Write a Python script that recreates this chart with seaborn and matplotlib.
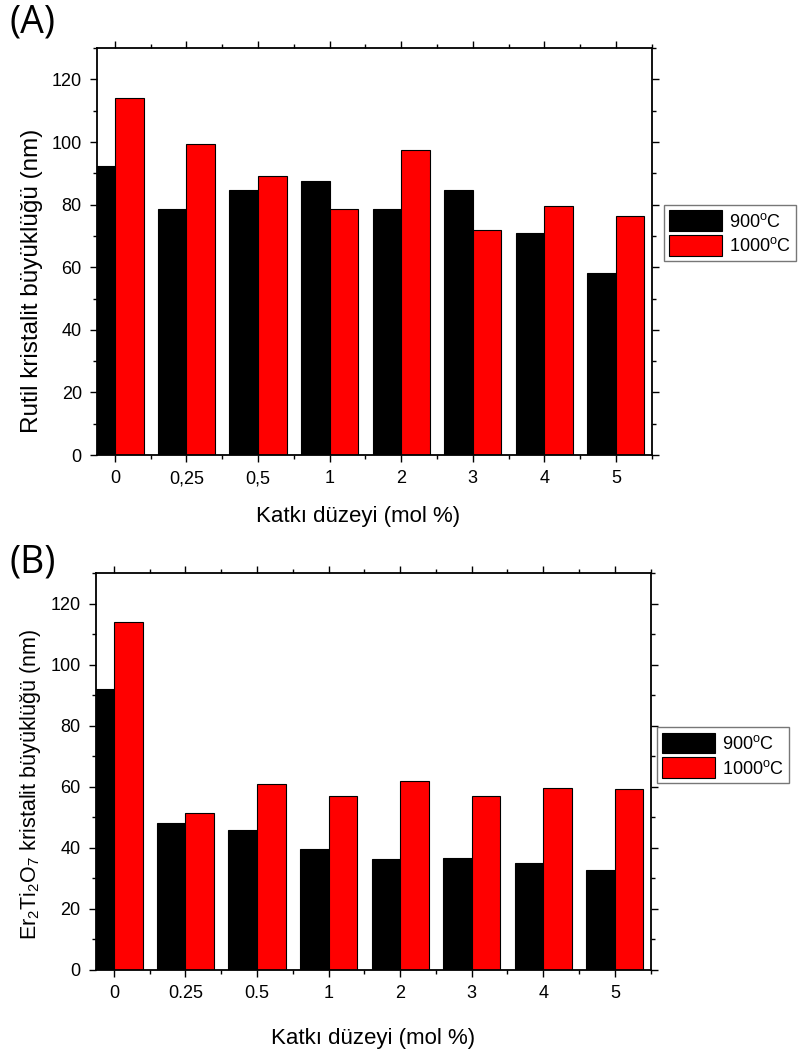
import numpy as np
import pandas as pd
import matplotlib
matplotlib.use('Agg')
import matplotlib.pyplot as plt
import seaborn as sns

sns.set_style('ticks')
plt.rcParams['font.family'] = ['Liberation Sans', 'DejaVu Sans']
plt.rcParams['mathtext.fontset'] = 'custom'
plt.rcParams['mathtext.rm'] = 'Liberation Sans'
plt.rcParams['text.color'] = 'black'
plt.rcParams['axes.labelcolor'] = 'black'
plt.rcParams['xtick.color'] = 'black'
plt.rcParams['ytick.color'] = 'black'
plt.rcParams['axes.edgecolor'] = 'black'

# veri
levels = ['0', '0.25', '0.5', '1', '2', '3', '4', '5']
labels_a = ['0', '0,25', '0,5', '1', '2', '3', '4', '5']
labels_b = ['0', '0.25', '0.5', '1', '2', '3', '4', '5']
temps = ['900°C', '1000°C']
temp_labels = ['900$^\\mathregular{o}$C', '1000$^\\mathregular{o}$C']

rutil_900 = [92.2, 78.6, 84.8, 87.5, 78.6, 84.7, 70.9, 58.1]
rutil_1000 = [114.1, 99.4, 89.0, 78.5, 97.4, 71.8, 79.7, 76.4]

er_900 = [92.0, 48.1, 45.8, 39.7, 36.4, 36.5, 35.0, 32.8]
er_1000 = [114.0, 51.5, 60.8, 57.0, 62.0, 57.0, 59.6, 59.2]

palette = {'900°C': 'black', '1000°C': 'red'}


def long_df(v900, v1000):
    return pd.DataFrame({
        'level': levels * 2,
        'temp': [temps[0]] * len(levels) + [temps[1]] * len(levels),
        'size': v900 + v1000,
    })


fig = plt.figure(figsize=(7.98, 10.57), dpi=100)
ax_a = fig.add_axes([0.1216, 0.5695, 0.695, 0.385])
ax_b = fig.add_axes([0.1203, 0.0826, 0.695, 0.375])

# (eksen, veri, etiketler, y etiketi, y boyut, y konum, x konum, harf, lejant, harf y)
panels = [
    (ax_a, long_df(rutil_900, rutil_1000), labels_a,
     'Rutil kristalit büyüklüğü (nm)', 17.5, (-0.097, 0.4275),
     (0.47, -0.125), '(A)', (0.832, 0.806), 0.997),
    (ax_b, long_df(er_900, er_1000), labels_b,
     '$\\mathregular{Er_2Ti_2O_7}$ kristalit büyüklüğü (nm)', 15.5,
     (-0.0955, 0.468), (0.5, -0.146), '(B)', (0.823, 0.312), 0.486),
]

for ax, df, xt, ylab, ysize, ypos, xpos, tag, leg_pos, tag_y in panels:
    sns.barplot(data=df, x='level', y='size', hue='temp', order=levels,
                hue_order=temps, palette=palette, width=0.8, gap=0,
                edgecolor='black', linewidth=0.8, saturation=1, ax=ax)
    ax.set_xlim(-0.25, 7.5)
    ax.set_ylim(0, 130)
    ax.set_yticks(np.arange(0, 121, 20))
    ax.set_yticks(np.arange(0, 131, 10), minor=True)
    ax.set_xticks(np.arange(len(levels)))
    ax.set_xticks(np.arange(0.5, 7.6, 1), minor=True)
    ax.set_xticklabels(xt)
    ax.tick_params(axis='both', which='major', labelsize=13, length=5,
                   width=1, direction='out', pad=6)
    ax.tick_params(axis='both', which='minor', length=3, width=1,
                   direction='out')
    ax.tick_params(top=True, right=True, which='both')
    ax.tick_params(labeltop=False, labelright=False)
    for s in ax.spines.values():
        s.set_linewidth(1.3)
        s.set_visible(True)
    ax.set_xlabel('Katkı düzeyi (mol %)', fontsize=16)
    ax.set_ylabel(ylab, fontsize=ysize)
    ax.yaxis.set_label_coords(*ypos)
    ax.xaxis.set_label_coords(*xpos)

    handles, _ = ax.get_legend_handles_labels()
    ax.get_legend().remove()
    fig.legend(handles, temp_labels, loc='upper left',
               bbox_to_anchor=leg_pos, fontsize=13,
               frameon=True, fancybox=False, edgecolor='#555555',
               handlelength=2.9, handleheight=1.4, handletextpad=0.4,
               labelspacing=0.2, borderpad=0.3, borderaxespad=0)

    fig.text(0.012, tag_y, tag, fontsize=27,
             family=['Open Sans', 'DejaVu Sans'], va='top', ha='left')

fig.savefig('out.png', dpi=100)
